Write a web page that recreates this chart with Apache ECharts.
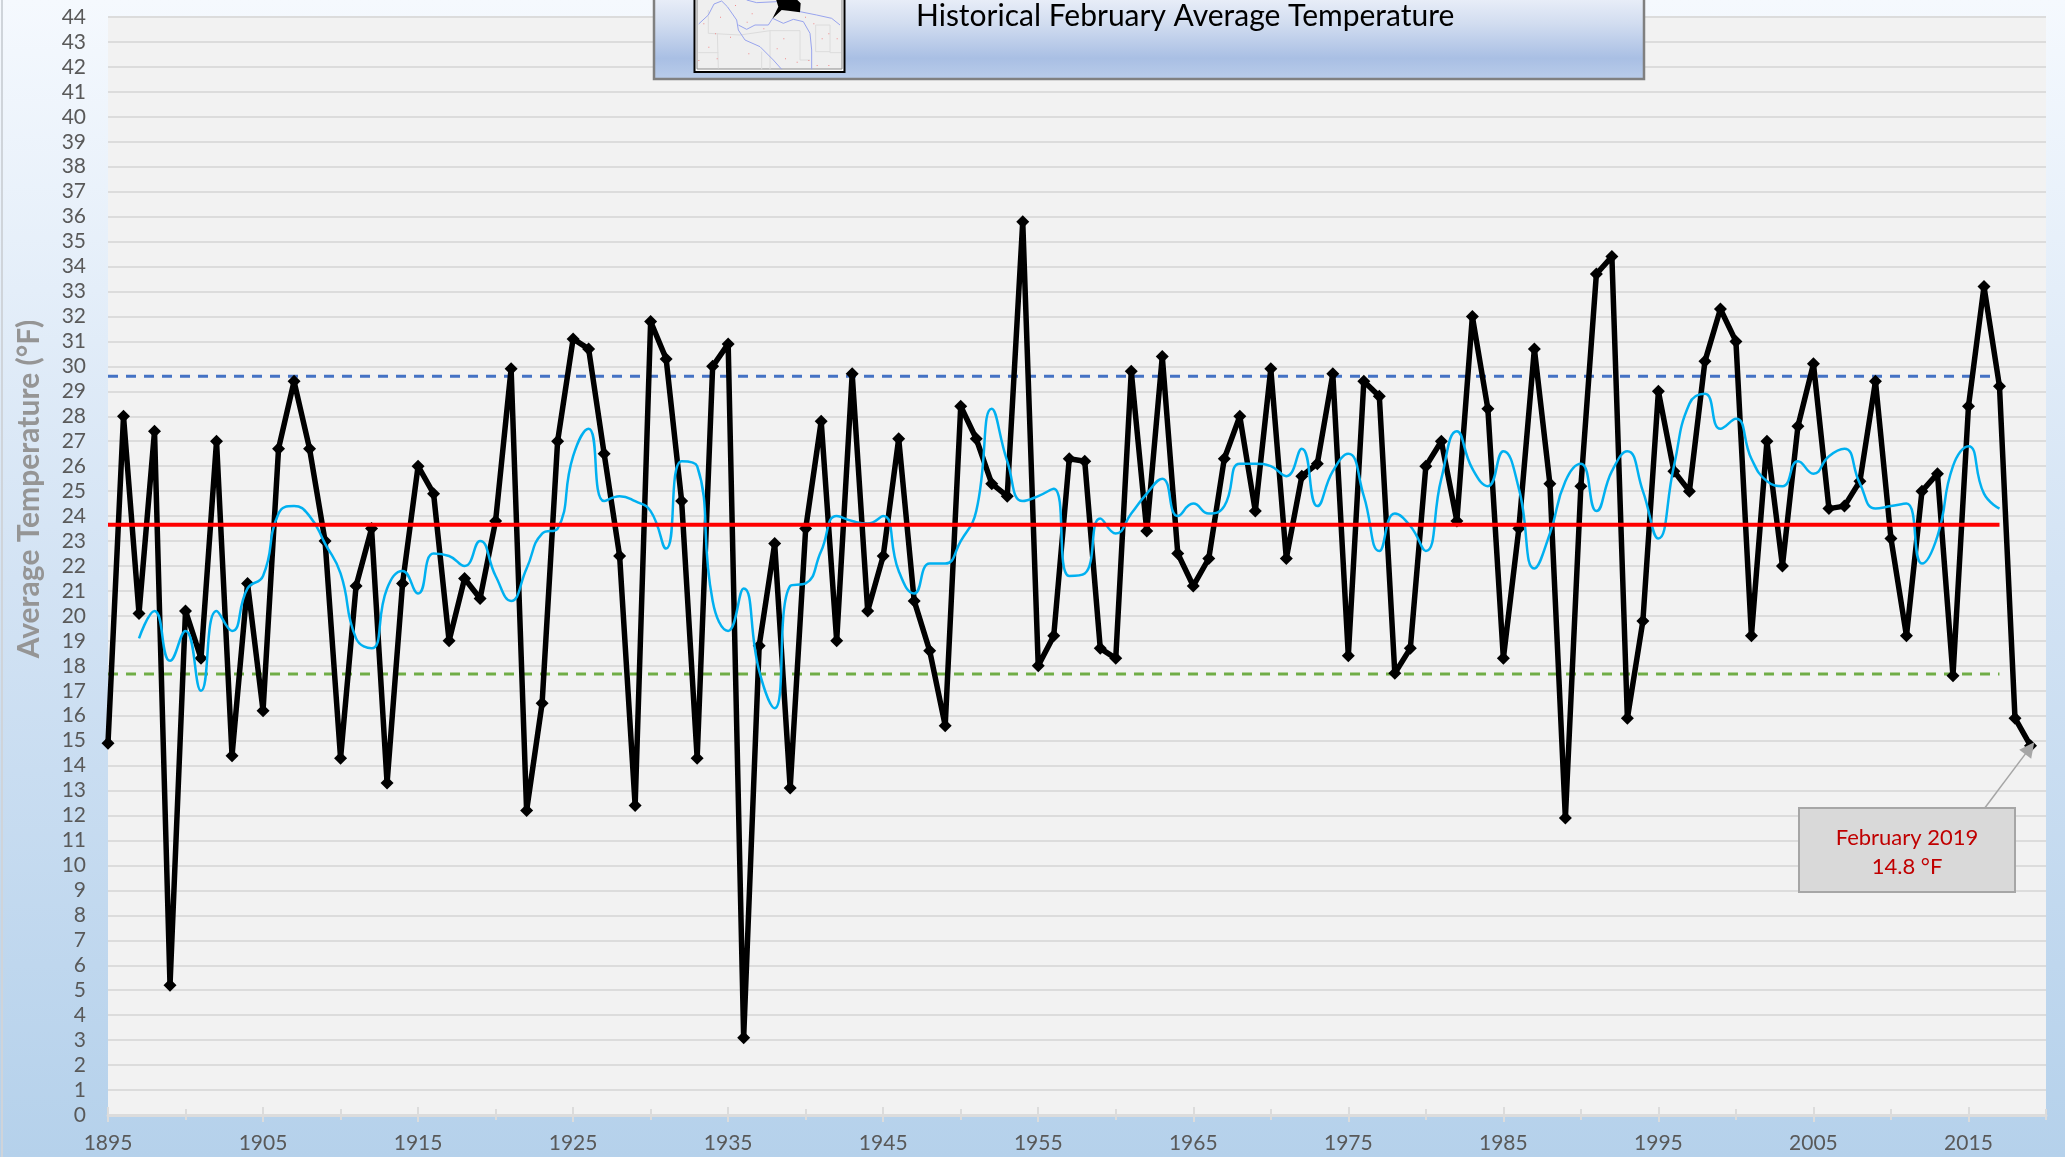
<!DOCTYPE html>
<html>
<head>
<meta charset="utf-8">
<title>Historical February Average Temperature</title>
<style>
  html, body { margin: 0; padding: 0; background: #b6d2ec; }
  #chart { width: 2065px; height: 1157px; }
</style>
</head>
<body>
<div id="chart"></div>
<script src="https://cdn.jsdelivr.net/npm/echarts@6/dist/echarts.min.js"></script>
<script>
// february average temperature, one value per year from 1895
const firstYear = 1895;
const temps = [
  14.9, 28.0, 20.1, 27.4, 5.2, 20.2, 18.3, 27.0, 14.4, 21.3,
  16.2, 26.7, 29.4, 26.7, 23.0, 14.3, 21.2, 23.5, 13.3, 21.3,
  26.0, 24.9, 19.0, 21.5, 20.7, 23.8, 29.9, 12.2, 16.5, 27.0,
  31.1, 30.7, 26.5, 22.4, 12.4, 31.8, 30.3, 24.6, 14.3, 30.0,
  30.9, 3.1, 18.8, 22.9, 13.1, 23.5, 27.8, 19.0, 29.7, 20.2,
  22.4, 27.1, 20.6, 18.6, 15.6, 28.4, 27.1, 25.3, 24.8, 35.8,
  18.0, 19.2, 26.3, 26.2, 18.7, 18.3, 29.8, 23.4, 30.4, 22.5,
  21.2, 22.3, 26.3, 28.0, 24.2, 29.9, 22.3, 25.6, 26.1, 29.7,
  18.4, 29.4, 28.8, 17.7, 18.7, 26.0, 27.0, 23.8, 32.0, 28.3,
  18.3, 23.5, 30.7, 25.3, 11.9, 25.2, 33.7, 34.4, 15.9, 19.8,
  29.0, 25.8, 25.0, 30.2, 32.3, 31.0, 19.2, 27.0, 22.0, 27.6,
  30.1, 24.3, 24.4, 25.4, 29.4, 23.1, 19.2, 25.0, 25.7, 17.6,
  28.4, 33.2, 29.2, 15.9, 14.8
];
// blue smoothed curve, starts in 1897 and stops in 2017
const smoothStart = 1897;
const smoothed = [
  19.1, 20.2, 18.2, 19.4, 17.0, 20.2, 19.4, 21.1,
  21.6, 24.1, 24.4, 24.0, 22.9, 21.7, 19.1, 18.7, 21.1, 21.8,
  20.9, 22.5, 22.4, 22.0, 23.0, 21.6, 20.6, 21.9, 23.3, 23.5,
  26.4, 27.5, 24.6, 24.8, 24.6, 24.2, 22.7, 26.2, 26.0, 20.6,
  19.4, 21.1, 17.8, 16.3, 21.2, 21.3, 22.6, 24.0, 23.8, 23.7,
  24.0, 21.8, 20.9, 22.1, 22.1, 23.0, 24.2, 28.3, 26.2, 24.6,
  24.8, 25.1, 21.6, 21.7, 23.9, 23.3, 24.1, 24.9, 25.5, 24.0,
  24.5, 24.1, 24.4, 26.1, 26.1, 26.0, 25.6, 26.7, 24.4, 25.8,
  26.5, 24.8, 22.6, 24.1, 23.6, 22.6, 25.5, 27.4, 25.9, 25.2,
  26.6, 25.1, 21.9, 23.3, 25.4, 26.1, 24.2, 25.8, 26.6, 25.0,
  23.1, 26.0, 28.5, 28.9, 27.5, 27.9, 26.3, 25.4, 25.2, 26.2,
  25.7, 26.4, 26.7, 25.3, 24.3, 24.4, 24.5, 22.1, 23.2, 26.0,
  26.8, 24.9, 24.3
];
const refYears = [1895, 2017];
const meanLine = [23.65, 23.65];
const upperLine = [29.6, 29.6];
const lowerLine = [17.67, 17.67];

const yearLabels = [1895, 1905, 1915, 1925, 1935, 1945, 1955, 1965, 1975, 1985, 1995, 2005, 2015];
const minorTicks = [1900, 1910, 1920, 1930, 1940, 1950, 1960, 1970, 1980, 1990, 2000, 2010, 2020];

const titleText = 'Historical February Average Temperature';
const yName = 'Average Temperature (°F)';
const noteText = 'February 2019\n14.8 °F';

const FONT = 'Lato, "Open Sans", sans-serif';
const gridColor = '#dcdcdc';
const labelColor = '#595959';

function pairs(start, values) {
  return values.map(function (v, i) { return [start + i, v]; });
}
function refData(values) {
  return refYears.map(function (y, i) { return [y, values[i]]; });
}
// extra x axis, only there to draw ticks that cross the axis line
function tickAxis(values, offset, length) {
  return {
    type: 'value', min: 1895, max: 2020, position: 'bottom', offset: offset,
    axisLine: { show: false },
    axisLabel: { show: false },
    splitLine: { show: false },
    axisTick: { show: true, customValues: values, length: length, lineStyle: { color: gridColor, width: 2 } }
  };
}
function mapPoint(p) {
  return [640 + p[0] / 3, p[1] / 3];
}
function mapLine(pts, color, width) {
  return {
    type: 'polyline',
    shape: { points: pts.map(mapPoint) },
    style: { stroke: color, lineWidth: width, fill: null },
    z: 23
  };
}

const mapRiver = '#98a4ee';
const mapCounty = '#dcdcdc';
const mapDots = [
  [190, 70], [205, 140], [225, 100], [240, 50], [285, 15], [270, 110], [320, 65], [335, 40],
  [325, 160], [370, 85], [410, 145], [430, 115], [435, 175], [470, 185], [505, 180], [545, 115],
  [565, 100], [590, 115], [565, 195], [530, 195], [495, 50], [520, 70], [230, 175], [175, 180]
];
const mapParts = [
  [[205, 30], [205, 100], [300, 105], [390, 92], [480, 92]],
  [[232, 100], [235, 205]],
  [[175, 158], [235, 158]],
  [[390, 92], [390, 208]],
  [[365, 155], [365, 208]],
  [[480, 92], [480, 180], [510, 180]],
  [[527, 75], [570, 75], [570, 158], [603, 158]],
  [[527, 75], [527, 155], [570, 155]]
].map(function (p) { return mapLine(p, mapCounty, 1); }).concat([
  [[176, 72], [205, 45], [222, 12], [245, 3], [262, 20], [290, 60], [295, 90], [315, 120], [360, 140], [400, 180], [425, 208]],
  [[295, 75], [320, 88], [345, 75], [385, 75], [398, 55], [430, 70], [460, 58], [490, 65], [510, 100], [515, 150], [515, 208]],
  [[320, 0], [350, 8], [410, 5]],
  [[480, 35], [530, 45], [575, 55], [600, 75]]
].map(function (p) { return mapLine(p, mapRiver, 1); })).concat(mapDots.map(function (p) {
  const c = mapPoint(p);
  return { type: 'rect', shape: { x: c[0], y: c[1], width: 1, height: 1 }, style: { fill: '#f08a8a' }, z: 23 };
}));

const chart = echarts.init(document.getElementById('chart'), null, { renderer: 'canvas' });
chart.setOption({
  animation: false,
  backgroundColor: {
    type: 'linear', x: 0, y: 0, x2: 0, y2: 1,
    colorStops: [
      { offset: 0, color: '#f5f9fe' },
      { offset: 0.5, color: '#d3e3f4' },
      { offset: 1, color: '#b5d1eb' }
    ]
  },
  grid: {
    left: 108, right: 19, top: 17, bottom: 42,
    show: true, backgroundColor: '#f2f2f2', borderWidth: 0
  },
  xAxis: [
    {
      type: 'value', min: 1895, max: 2020,
      axisLine: { show: true, onZero: false, lineStyle: { color: gridColor, width: 3 } },
      axisTick: { show: false },
      splitLine: { show: false },
      axisLabel: {
        customValues: yearLabels,
        margin: 18,
        fontFamily: FONT, fontSize: 21, color: labelColor,
        formatter: function (v) { return String(v); }
      }
    },
    tickAxis(yearLabels, -8, 15),
    tickAxis(minorTicks, -6, 11)
  ],
  yAxis: {
    type: 'value', min: 0, max: 44, interval: 1,
    axisLine: { show: false },
    axisTick: { show: false },
    axisLabel: { margin: 22, fontFamily: FONT, fontSize: 21, color: labelColor },
    splitLine: { lineStyle: { color: gridColor, width: 2 } }
  },
  series: [
    {
      name: 'upper', type: 'line', data: refData(upperLine), showSymbol: false, z: 3,
      lineStyle: { color: '#4472c4', width: 3, type: [10, 8] }
    },
    {
      name: 'lower', type: 'line', data: refData(lowerLine), showSymbol: false, z: 3,
      lineStyle: { color: '#70ad47', width: 3, type: [10, 8] }
    },
    {
      name: 'smoothed', type: 'line', data: pairs(smoothStart, smoothed), showSymbol: false, z: 5,
      smooth: 0.5,
      lineStyle: { color: '#00b0f0', width: 2.5 }
    },
    {
      name: 'temperature', type: 'line', data: pairs(firstYear, temps), z: 4,
      symbol: 'diamond', symbolSize: 13, showAllSymbol: true,
      itemStyle: { color: '#000' },
      lineStyle: { color: '#000', width: 5.5 },
      markLine: {
        silent: true, animation: false, z: 6,
        label: { show: false },
        lineStyle: { color: '#a6a6a6', width: 1.5, type: 'solid' },
        symbolSize: 15,
        data: [[
          { coord: [2016.05, 12.3], symbol: 'none' },
          { coord: [2018.95, 14.7], symbol: 'triangle' }
        ]]
      }
    },
    {
      name: 'mean', type: 'line', data: refData(meanLine), showSymbol: false, z: 6,
      lineStyle: { color: '#ff0000', width: 4, cap: 'butt' }
    }
  ],
  graphic: [
    // thin frame on the left edge
    { type: 'rect', shape: { x: 1, y: 0, width: 2, height: 1157 }, style: { fill: '#cfd4da' }, z: 20 },
    // title banner
    {
      type: 'rect', shape: { x: 654, y: -6, width: 990, height: 85 }, z: 20,
      style: {
        stroke: '#808080', lineWidth: 2.5,
        fill: {
          type: 'linear', x: 0, y: 0, x2: 0, y2: 1,
          colorStops: [
            { offset: 0, color: '#eef2fa' },
            { offset: 0.35, color: '#d2ddf0' },
            { offset: 0.75, color: '#a9bfe4' },
            { offset: 1, color: '#bacdea' }
          ]
        }
      }
    },
    {
      type: 'text', x: 916, y: 16, z: 21,
      style: { text: titleText, fontFamily: FONT, fontSize: 30, fill: '#000', textAlign: 'left', textVerticalAlign: 'middle' }
    },
    // locator map
    { type: 'rect', shape: { x: 694.5, y: -4, width: 150, height: 76 }, z: 22, style: { fill: '#fff', stroke: '#000', lineWidth: 2 } },
    { type: 'rect', shape: { x: 697, y: -4, width: 145, height: 73 }, z: 22, style: { fill: '#efefef', stroke: '#8a8a8a', lineWidth: 1 } }
  ].concat(mapParts).concat([
    {
      type: 'polygon', z: 24,
      shape: {
        points: [[397, 56], [425, 30], [445, 32], [480, 37], [482, 10], [470, -2], [408, -2], [415, 20]].map(mapPoint)
      },
      style: { fill: '#000' }
    },
    // y axis title
    {
      type: 'text', x: 29, y: 489, rotation: Math.PI / 2, z: 21,
      style: { text: yName, fontFamily: FONT, fontSize: 30, fontWeight: 'bold', fill: '#959595', textAlign: 'center', textVerticalAlign: 'middle' }
    },
    // note box for the last value
    { type: 'rect', shape: { x: 1799, y: 808, width: 216, height: 84 }, z: 21, style: { fill: '#d9d9d9', stroke: '#a6a6a6', lineWidth: 2 } },
    {
      type: 'text', x: 1907, y: 852, z: 22,
      style: { text: noteText, fontFamily: FONT, fontSize: 22, lineHeight: 29, fill: '#c00000', textAlign: 'center', textVerticalAlign: 'middle' }
    }
  ])
});
</script>
</body>
</html>
